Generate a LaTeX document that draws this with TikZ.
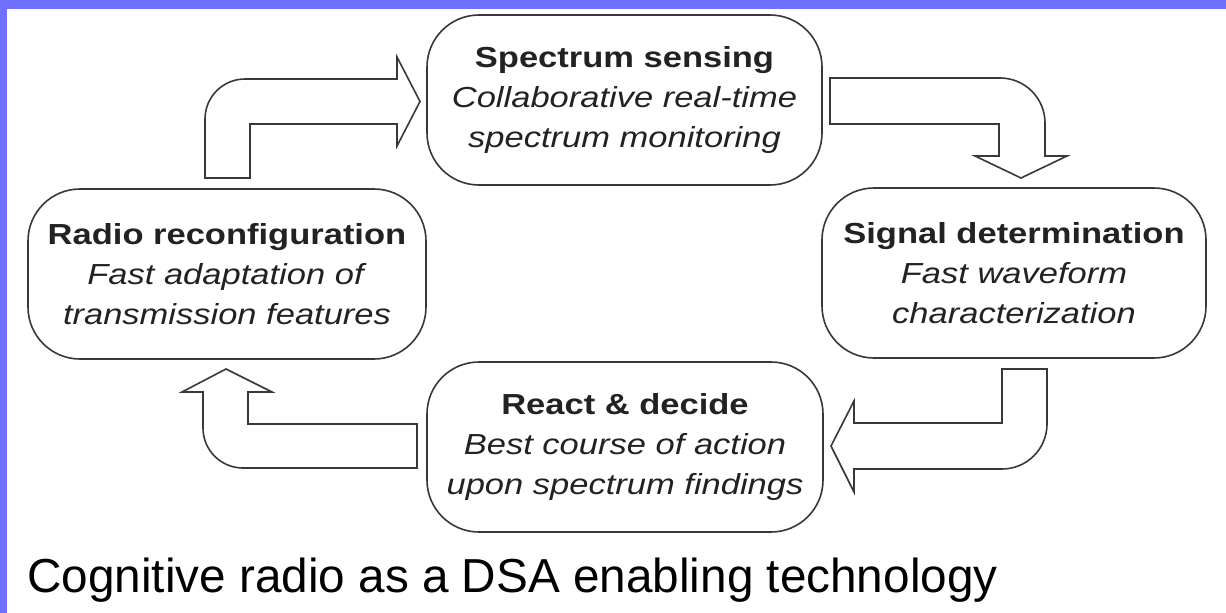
\documentclass[tikz,border=0pt]{standalone}
\usepackage{fontspec}
\setmainfont{Liberation Sans}
\newfontfamily\boxfont{Liberation Sans}[FakeStretch=1.19]
\usepackage{tikz}
\usetikzlibrary{positioning}
\definecolor{slideblue}{HTML}{7070FF}
\definecolor{boxline}{HTML}{383838}
\definecolor{boxtext}{HTML}{222222}
\tikzset{
    x=1pt, y=1pt, % One unit is one pixel of the slide
    stage/.style={ % Sets the properties for each stage of the cycle
        draw=boxline,
        line width=1.6pt,
        rounded corners=52pt,
        minimum height=170pt,
        inner sep=0pt,
        align=center,
        text=boxtext,
        font=\boxfont\fontsize{29}{40}\selectfont
    },
    blockarrow/.style={ % Hollow bent arrows between the stages
        draw=boxline,
        line width=1.6pt,
        fill=white,
        line join=miter
    }
}

\begin{document}
\begin{tikzpicture}
        \useasboundingbox (0,0) rectangle (1226,-613);
        \fill[white] (0,0) rectangle (1226,-613);
        \fill[slideblue] (0,0) rectangle (1226,-9);
        \fill[slideblue] (0,0) rectangle (7,-613);

        \node[stage, minimum width=395pt] (sensing) at (624.5,-100)
            {\textbf{Spectrum sensing}\\ \textit{Collaborative real-time}\\ \textit{spectrum monitoring}};
        \node[stage, minimum width=384pt] (signal) at (1014,-273)
            {\textbf{Signal determination}\\ \textit{Fast waveform}\\ \textit{characterization}};
        \node[stage, minimum width=396pt] (decide) at (625,-447)
            {\textbf{React \& decide}\\ \textit{Best course of action}\\ \textit{upon spectrum findings}};
        \node[stage, minimum width=398pt] (reconfig) at (227,-274)
            {\textbf{Radio reconfiguration}\\ \textit{Fast adaptation of}\\ \textit{transmission features}};

        % reconfiguration -> sensing
        \draw[blockarrow] (205,-178) -- (205,-119) arc (180:90:40) -- (397,-79) -- (397,-57)
            -- (420,-101.5) -- (397,-146) -- (397,-124) -- (250,-124) -- (250,-178) -- cycle;
        % sensing -> signal
        \draw[blockarrow] (830,-78) -- (1000,-78) arc (90:0:45) -- (1045,-156) -- (1067,-156)
            -- (1021,-178) -- (975,-156) -- (999,-156) -- (999,-124) -- (830,-124) -- cycle;
        % signal -> decide
        \draw[blockarrow] (1047,-369) -- (1047,-424) arc (0:-90:45) -- (854,-469) -- (854,-492)
            -- (831,-446) -- (854,-401) -- (854,-423) -- (1002,-423) -- (1002,-369) -- cycle;
        % decide -> reconfiguration
        \draw[blockarrow] (417,-468) -- (243,-468) arc (270:180:40) -- (203,-392) -- (182,-392)
            -- (226,-369) -- (272,-392) -- (248,-392) -- (248,-424) -- (417,-424) -- cycle;

        \node[anchor=base west, inner sep=0pt, font=\fontsize{47.7}{52}\selectfont] (caption)
            at (27,-592) {Cognitive radio as a DSA enabling technology};
    \end{tikzpicture}
\end{document}
